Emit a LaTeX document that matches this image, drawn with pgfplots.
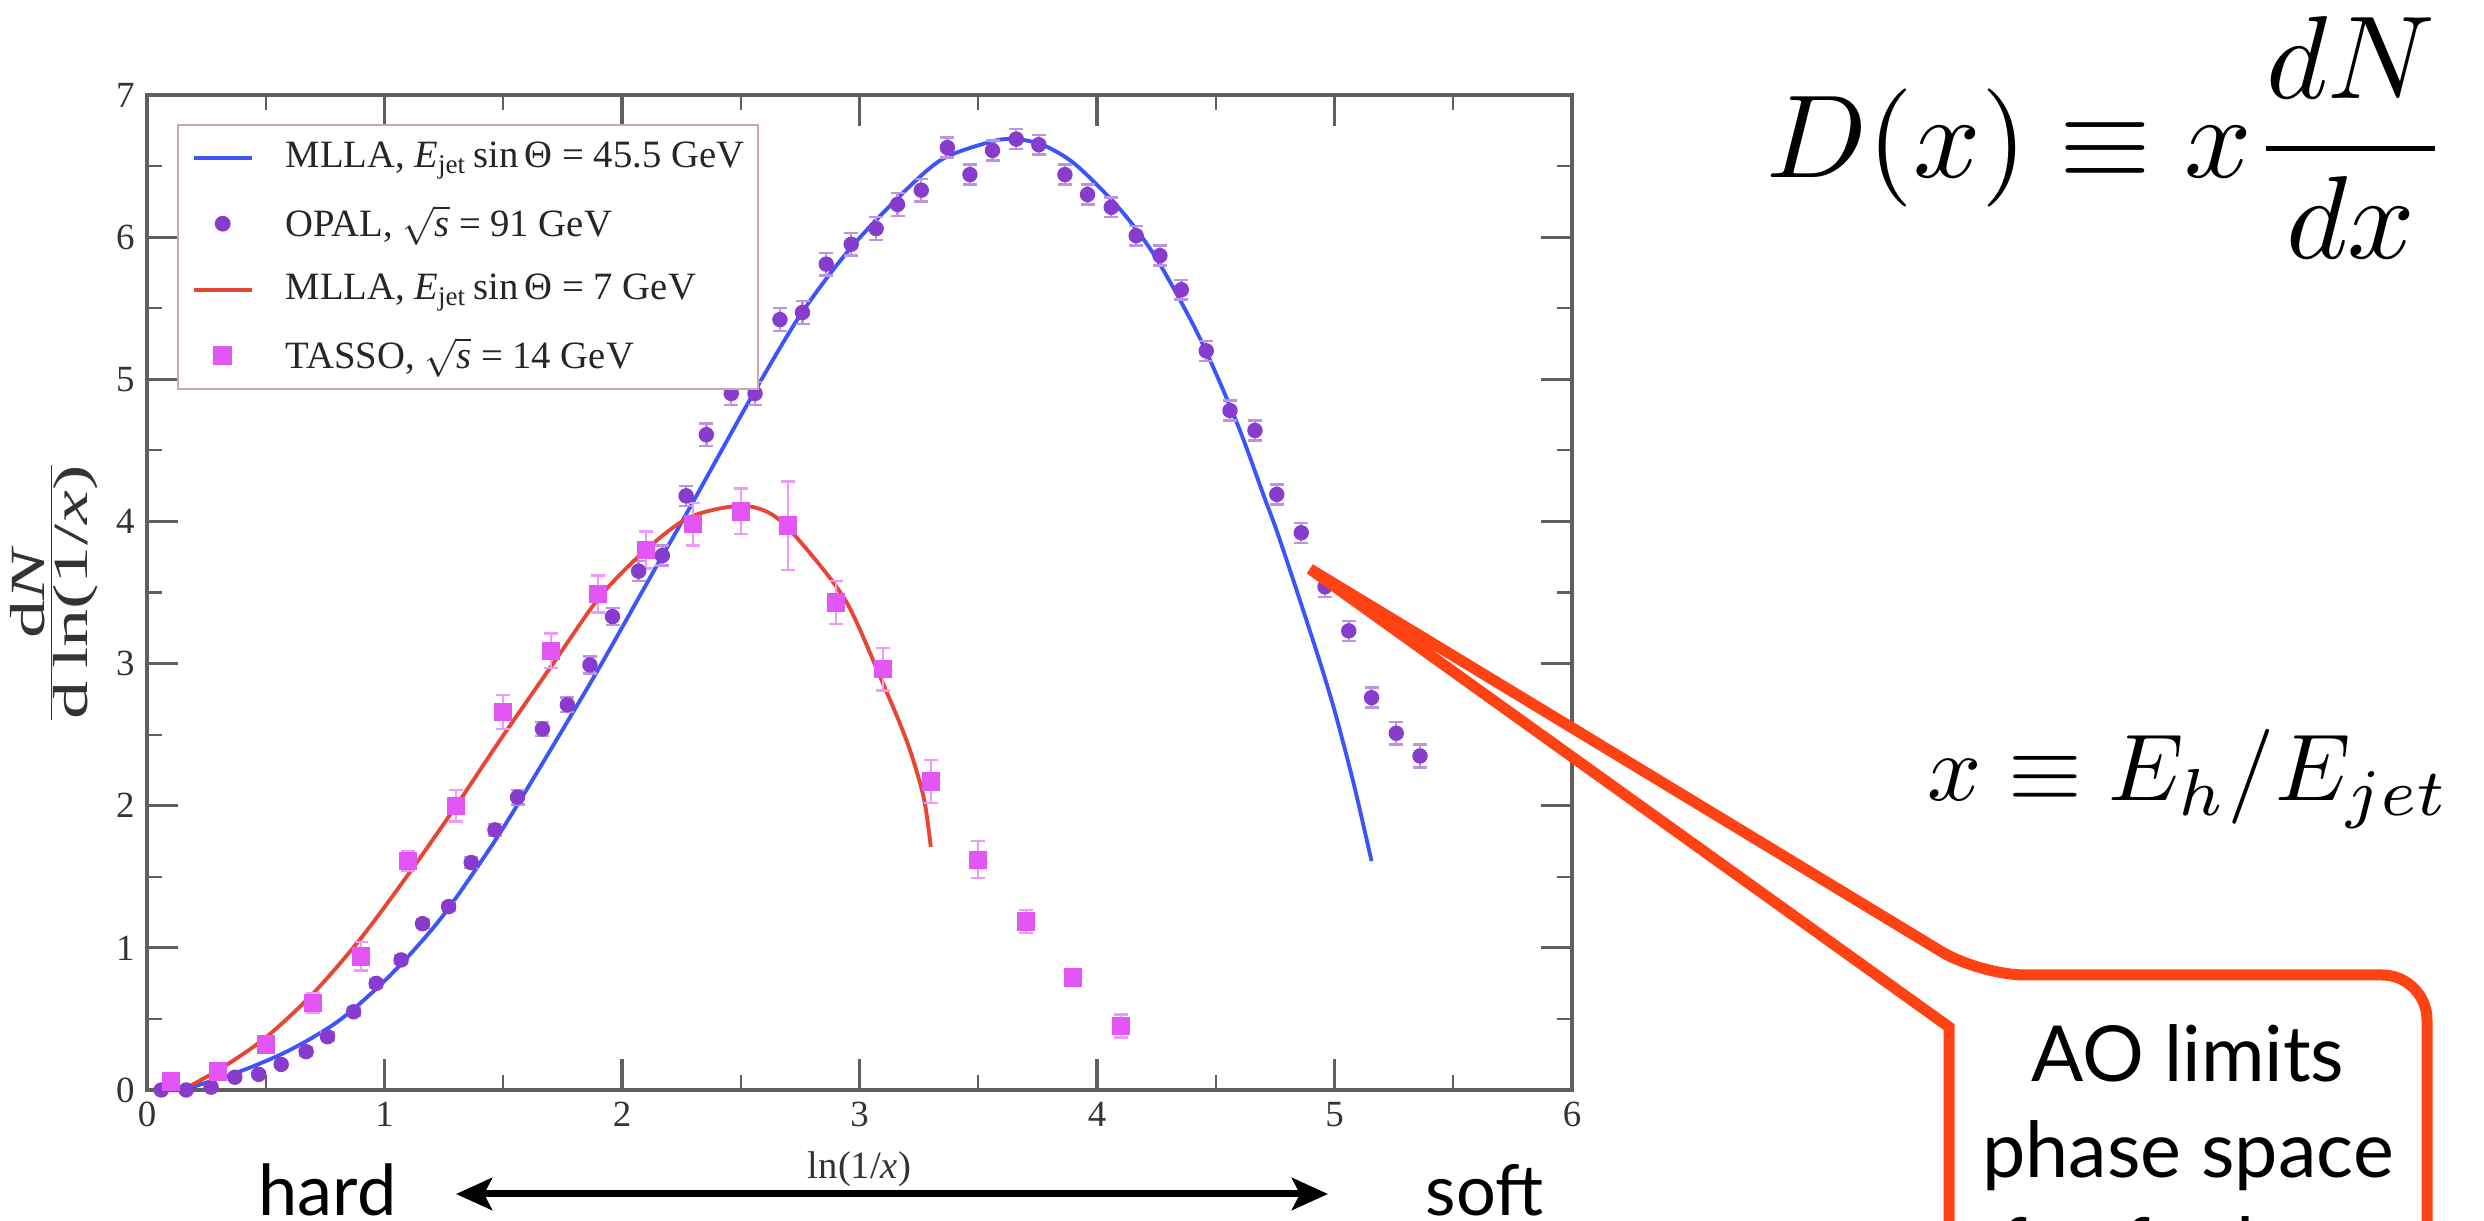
\documentclass[border=0pt]{standalone}
\usepackage{fontspec}
\setmainfont{Liberation Serif}
\newfontfamily\gill{Lato}
\usepackage{pgfplots}
\usepackage{pgfplotstable}
\pgfplotsset{compat=1.18}
\usetikzlibrary{arrows.meta}

\definecolor{opal}{RGB}{135,60,205}
\definecolor{tasso}{RGB}{228,85,245}
\definecolor{mllab}{RGB}{60,85,250}
\definecolor{mllar}{RGB}{232,70,52}
\definecolor{callout}{RGB}{255,66,20}
\definecolor{axisgray}{RGB}{95,95,95}
\definecolor{legframe}{RGB}{205,170,170}

\pgfplotstableread{
x y e
0.06 0.00 0.02
0.165 0.00 0.02
0.27 0.02 0.02
0.37 0.09 0.02
0.47 0.11 0.02
0.565 0.18 0.02
0.67 0.27 0.03
0.76 0.375 0.03
0.87 0.55 0.03
0.965 0.75 0.03
1.07 0.915 0.03
1.16 1.17 0.03
1.27 1.29 0.03
1.365 1.60 0.04
1.465 1.83 0.04
1.56 2.06 0.05
1.665 2.54 0.05
1.77 2.71 0.05
1.865 2.99 0.06
1.96 3.33 0.06
2.07 3.65 0.07
2.17 3.76 0.07
2.27 4.18 0.07
2.355 4.61 0.08
2.46 4.90 0.08
2.56 4.90 0.08
2.665 5.42 0.08
2.76 5.47 0.08
2.86 5.81 0.08
2.965 5.95 0.08
3.07 6.06 0.08
3.16 6.23 0.08
3.26 6.33 0.08
3.37 6.63 0.07
3.465 6.44 0.07
3.56 6.61 0.07
3.66 6.69 0.07
3.755 6.65 0.07
3.865 6.44 0.07
3.96 6.30 0.07
4.06 6.21 0.07
4.165 6.01 0.07
4.265 5.87 0.07
4.355 5.63 0.07
4.46 5.20 0.07
4.56 4.78 0.07
4.665 4.64 0.07
4.757 4.19 0.07
4.86 3.92 0.07
4.96 3.54 0.07
5.06 3.23 0.07
5.156 2.76 0.07
5.26 2.51 0.08
5.36 2.35 0.08
}\opaldata

\pgfplotstableread{
x y e
0.10 0.06 0.04
0.30 0.13 0.05
0.50 0.32 0.05
0.70 0.61 0.07
0.90 0.94 0.10
1.10 1.61 0.07
1.30 2.00 0.11
1.50 2.66 0.12
1.70 3.09 0.12
1.90 3.49 0.13
2.10 3.80 0.13
2.30 3.98 0.15
2.50 4.07 0.16
2.70 3.97 0.31
2.90 3.43 0.15
3.10 2.96 0.15
3.30 2.17 0.15
3.50 1.62 0.13
3.70 1.185 0.08
3.90 0.79 0.05
4.10 0.45 0.08
}\tassodata

\begin{document}
\begin{tikzpicture}[x=1cm,y=1cm]
\useasboundingbox (0,0) rectangle (24.84,12.21);
\clip (0,0) rectangle (24.84,12.21);
\begin{axis}[
  at={(1.47cm,1.31cm)}, anchor=south west,
  scale only axis, width=14.25cm, height=9.95cm,
  xmin=0, xmax=6, ymin=0, ymax=7,
  xtick={0,...,6}, ytick={0,...,7},
  minor x tick num=1, minor y tick num=1,
  major tick length=0.31cm, minor tick length=0.15cm,
  axis line style={axisgray, line width=1.1pt},
  tick style={axisgray},
  major tick style={line width=0.9pt},
  minor tick style={line width=0.6pt},
  ticklabel style={font=\fontsize{10.5}{12}\selectfont, text=black!80},
  /pgf/number format/assume math mode=true,
  xlabel={ln(1/\textit{x})},
  xlabel style={font=\fontsize{11}{13}\selectfont, text=black!80, at={(axis description cs:0.5,0)}, anchor=center, yshift=-0.79cm},
  ylabel={$\frac{\mbox{d\textit{N}}}{\mbox{d\,ln(1/\textit{x})}}$},
  ylabel style={font=\fontsize{14}{16}\selectfont, text=black!80, at={(axis description cs:-0.0653,0.5)}, anchor=center, xscale=1.55},
  clip=false,
  legend image code/.code={%
    \draw[#1] (0cm,0cm) -- (0.58cm,0cm);},
  legend cell align=left,
  legend style={at={(0.021,0.971)}, anchor=north west, draw=legframe, line width=0.5pt,
    fill=white, font=\fontsize{11}{13}\selectfont, text=black!85,
    inner xsep=0.14cm, inner ysep=0pt, row sep=0pt, column sep=0.32cm,
    nodes={inner sep=0pt, minimum height=0.66cm}},
  markleg/.style={legend image code/.code={%
    \path[draw=none, fill=none] (0cm,-0.05cm) rectangle (0.58cm,0.05cm);
    \draw[##1, draw=none] plot[only marks] coordinates {(0.29cm,0cm)};}},
]
\addplot[mllab, line width=1.1pt, smooth, tension=0.5] coordinates {
(0.15,0.0) (0.39,0.13) (0.60,0.28) (0.81,0.49) (1.02,0.80)
(1.234,1.20) (1.444,1.70) (1.59,2.09) (1.89,2.93) (2.13,3.64) (2.28,4.08)
(2.55,4.89) (2.75,5.45) (2.946,5.89) (3.14,6.24) (3.34,6.54) (3.55,6.67)
(3.65,6.69) (3.77,6.65) (3.91,6.51) (4.10,6.19) (4.25,5.85) (4.43,5.30)
(4.59,4.69) (4.70,4.19) (4.77,3.87) (4.91,3.16) (4.995,2.70) (5.08,2.16) (5.156,1.61)};
\addlegendentry{MLLA, \textit{E}\textsubscript{jet}\,sin\,Θ = 45.5 GeV}

\addplot[opal, only marks, mark=*, mark size=0.07cm, markleg,
  error bars/.cd, y dir=both, y explicit,
  error bar style={opal!55, line width=0.7pt},
  error mark options={opal!55, mark size=0.07cm, line width=0.7pt, rotate=90}]
  table[x=x, y=y, y error=e] {\opaldata};
\addlegendentry{OPAL, $\sqrt{\mbox{\textit{s}}}$ = 91 GeV}

\addplot[mllar, line width=1.1pt, smooth, tension=0.5] coordinates {
(0.15,0.0) (0.32,0.16) (0.504,0.375) (0.70,0.68) (0.897,1.06) (1.093,1.50)
(1.29,1.97) (1.486,2.46) (1.71,3.00) (1.907,3.47) (2.10,3.80) (2.286,4.03)
(2.50,4.11) (2.64,4.04) (2.78,3.80) (2.946,3.43) (3.086,2.91) (3.20,2.45)
(3.27,2.06) (3.30,1.71)};
\addlegendentry{MLLA, \textit{E}\textsubscript{jet}\,sin\,Θ = 7 GeV}

\addplot[tasso, only marks, mark=square*, mark size=0.085cm, markleg,
  error bars/.cd, y dir=both, y explicit,
  error bar style={tasso!60, line width=0.7pt},
  error mark options={tasso!60, mark size=0.07cm, line width=0.7pt, rotate=90}]
  table[x=x, y=y, y error=e] {\tassodata};
\addlegendentry{TASSO, $\sqrt{\mbox{\textit{s}}}$ = 14 GeV}
\end{axis}

% hard / soft arrow
\node[font=\gill\fontsize{20}{24}\selectfont, anchor=base west, inner sep=0] at (2.58,0.05) {hard};
\node[font=\gill\fontsize{20}{24}\selectfont, anchor=base west, inner sep=0] at (14.25,0.05) {soft};
\draw[line width=0.07cm, {Stealth[length=0.36cm,width=0.32cm,inset=0.08cm]}-{Stealth[length=0.36cm,width=0.32cm,inset=0.08cm]}] (4.56,0.27) -- (13.28,0.27);

% formulas
\node[anchor=center, inner sep=0, scale=3.36] at (21.08,10.835) {$\displaystyle D(x)\equiv x\frac{dN}{dx}$};
\node[anchor=base east, inner sep=0, scale=2.7] at (24.52,4.2) {$x\equiv E_h/E_{jet}$};

% callout
\draw[callout, line width=0.11cm, fill=white, line join=miter]
  (13.10,6.52) -- (19.49,1.94) -- (19.49,-1) -- (24.27,-1)
  [rounded corners=0.45cm] -- (24.27,2.46) -- (19.80,2.46) [sharp corners] -- cycle;
\node[font=\gill\fontsize{22}{26}\selectfont, anchor=base, inner sep=0] at (21.88,1.39) {AO limits};
\node[font=\gill\fontsize{22}{26}\selectfont, anchor=base, inner sep=0] at (21.88,0.43) {phase space};
\node[font=\gill\fontsize{22}{26}\selectfont, anchor=base, inner sep=0] at (21.88,-0.53) {of soft gluons};
\end{tikzpicture}
\end{document}
